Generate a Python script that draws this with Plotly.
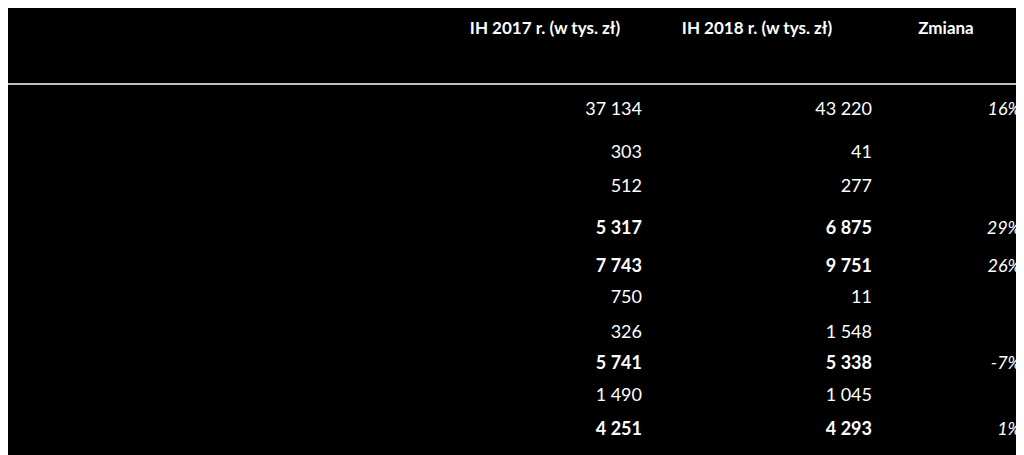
import plotly.graph_objects as go

labels = ["Koszty sprzedaży i ogólnego zarządu", "Pozostałe przychody operacyjne",
          "Pozostałe koszty operacyjne", "Zysk z działalności operacyjnej (EBIT)",
          "EBITDA", "Przychody finansowe", "Koszty finansowe", "Zysk brutto",
          "Podatek dochodowy", "Zysk netto"]
h2017 = ["37 134", "303", "512", "5 317", "7 743", "750", "326", "5 741", "1 490", "4 251"]
h2018 = ["43 220", "41", "277", "6 875", "9 751", "11", "1 548", "5 338", "1 045", "4 293"]
zmiana = ["16%", "", "", "29%", "26%", "", "", "-7%", "", "1%"]
bold = [False, False, False, True, True, False, False, True, False, True]
headers = ["Dane finansowe", "IH 2017 r. (w tys. zł)", "IH 2018 r. (w tys. zł)", "Zmiana"]

# layout: row centres in pixels
row_y = [110, 153, 187, 229, 267, 298, 333, 364, 396, 430]
FONT = "Lato"
SIZE = 18

def b(s, on):
    return f"<b>{s}</b>" if on and s else s

def col(x, texts, pos):
    return go.Scatter(x=[x] * len(texts), y=row_y, mode="text", text=texts,
                      textposition=pos, cliponaxis=False,
                      textfont=dict(color="white", size=SIZE, family=FONT))

fig = go.Figure()
fig.add_trace(col(3, [b(s, k) for s, k in zip(labels, bold)], "middle right"))
fig.add_trace(col(642, [b(s, k) for s, k in zip(h2017, bold)], "middle left"))
fig.add_trace(col(872, [b(s, k) for s, k in zip(h2018, bold)], "middle left"))
fig.add_trace(col(1021, [f"<i>{s}</i>" if s else "" for s in zmiana], "middle left"))
fig.add_trace(go.Scatter(x=[3, 545, 757, 946], y=[45, 30, 30, 30], mode="text",
                         text=[f"<b>{h}</b>" for h in headers], cliponaxis=False,
                         textposition=["middle right", "middle center", "middle center", "middle center"],
                         textfont=dict(color="white", size=17, family=FONT)))

fig.add_shape(type="line", x0=0, x1=1040, y0=2, y1=2, line=dict(color="#bfbfbf", width=2))
fig.add_shape(type="line", x0=0, x1=1040, y0=84, y1=84, line=dict(color="#bfbfbf", width=2))

# page body adds an 8px offset, so the ranges start 8px earlier
fig.update_layout(width=1024, height=455, margin=dict(l=0, r=0, t=0, b=0),
                  paper_bgcolor="black", plot_bgcolor="black", showlegend=False,
                  xaxis=dict(range=[8, 1032], visible=False, fixedrange=True),
                  yaxis=dict(range=[463, 8], visible=False, fixedrange=True))
fig.write_html("out.html")
